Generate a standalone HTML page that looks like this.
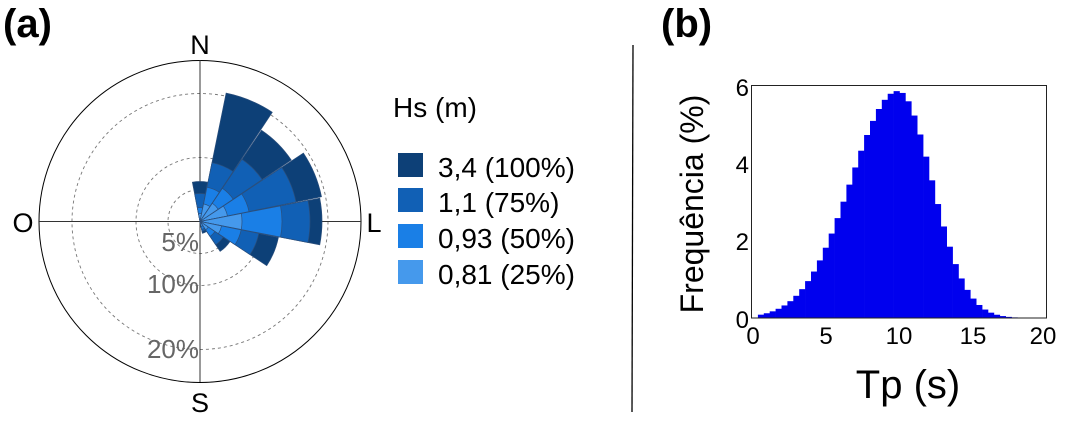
<!DOCTYPE html>
<html><head><meta charset="utf-8"><style>
html,body{margin:0;padding:0;background:#fff;}
svg{display:block;font-family:"Liberation Sans",sans-serif;}
</style></head><body>
<svg id="s" width="1083" height="422" viewBox="0 0 1083 422" xmlns="http://www.w3.org/2000/svg">
<text x="3" y="37" font-size="40" font-weight="bold">(a)</text>
<text x="661" y="37" font-size="40" font-weight="bold">(b)</text>
<line x1="633" y1="45" x2="632" y2="412" stroke="#000" stroke-width="1.3"/>
<circle cx="200" cy="221.5" r="161" fill="none" stroke="#000" stroke-width="1"/>
<g fill="none" stroke="#777" stroke-width="0.9" stroke-dasharray="3,3">
<circle cx="200" cy="221.5" r="32"/><circle cx="200" cy="221.5" r="64"/><circle cx="200" cy="221.5" r="128"/>
</g>
<line x1="39" y1="221.5" x2="361" y2="221.5" stroke="#333" stroke-width="1"/>
<line x1="200" y1="60" x2="200" y2="382" stroke="#333" stroke-width="1"/>
<g id="rose"></g>
<g font-size="26" fill="#666" text-anchor="end">
<text x="199" y="251">5%</text><text x="199" y="293">10%</text><text x="199" y="358">20%</text>
</g>
<g font-size="27" text-anchor="middle">
<text x="200" y="54">N</text><text x="200" y="412">S</text>
<text x="23" y="232">O</text><text x="374" y="232">L</text>
</g>
<text x="393" y="117" font-size="28">Hs (m)</text>
<rect x="398" y="153" width="25" height="24" fill="#0d4077"/>
<rect x="398" y="188" width="25" height="24" fill="#1160b5"/>
<rect x="398" y="224" width="25" height="24" fill="#1a7fe6"/>
<rect x="398" y="260" width="25" height="24" fill="#4599ec"/>
<g font-size="28">
<text x="438" y="177">3,4 (100%)</text><text x="438" y="212">1,1 (75%)</text>
<text x="438" y="248">0,93 (50%)</text><text x="438" y="284">0,81 (25%)</text>
</g>
<g id="hist"></g>
<rect x="751.5" y="85.5" width="295" height="232.5" fill="none" stroke="#222" stroke-width="1"/>
<g font-size="24" text-anchor="end">
<text x="749" y="328">0</text><text x="749" y="250">2</text><text x="749" y="173">4</text><text x="749" y="96">6</text>
</g>
<g font-size="24" text-anchor="middle">
<text x="753" y="344">0</text><text x="826" y="344">5</text><text x="899" y="344">10</text><text x="973" y="344">15</text><text x="1043" y="344">20</text>
</g>
<text x="908" y="398" font-size="40" text-anchor="middle">Tp (s)</text>
<text transform="translate(703,204) rotate(-90)" font-size="32" text-anchor="middle">Frequência (%)</text>
</svg>
<script>
var NS="http://www.w3.org/2000/svg";
function el(t,a,p){var e=document.createElementNS(NS,t);for(var k in a)e.setAttribute(k,a[k]);p.appendChild(e);return e;}
var cx=200,cy=221.5,cols=["#4599ec","#1a7fe6","#1160b5","#0d4077"];
var sec=[[0,[8,14,28,40]],[22.5,[18,35,60,131]],[45,[22,40,75,110]],[67.5,[28,50,98,124]],[90,[42,82,110,122]],[112.5,[22,42,60,80]],[135,[10,18,28,36]],[157.5,[5,8,10,12]]];
var g=document.getElementById("rose");
function pt(r,a){var t=a*Math.PI/180;return [cx+r*Math.sin(t),cy-r*Math.cos(t)];}
sec.forEach(function(s){var c=s[0],rs=s[1],a0=c-11,a1=c+11;
 for(var i=3;i>=0;i--){var r=rs[i],p0=pt(r,a0),p1=pt(r,a1);
  el("path",{d:"M"+cx+","+cy+"L"+p0[0]+","+p0[1]+"A"+r+","+r+" 0 0 1 "+p1[0]+","+p1[1]+"Z",fill:cols[i],stroke:"#2b4f7c","stroke-width":"0.7"},g);}
});
var h=document.getElementById("hist");
var x0=752,y0=318,sx=14.75,sy=38.8,w=0.4;
for(var x=0.4;x<19;x+=w){var m=x+w/2,mu=9.9,sd=m<mu?3.2:2.3;
 var v=5.85*Math.exp(-(m-mu)*(m-mu)/(2*sd*sd));
 el("rect",{x:x0+x*sx,y:y0-v*sy,width:w*sx+0.3,height:v*sy,fill:"#0000ee"},h);}
</script>
</body></html>
